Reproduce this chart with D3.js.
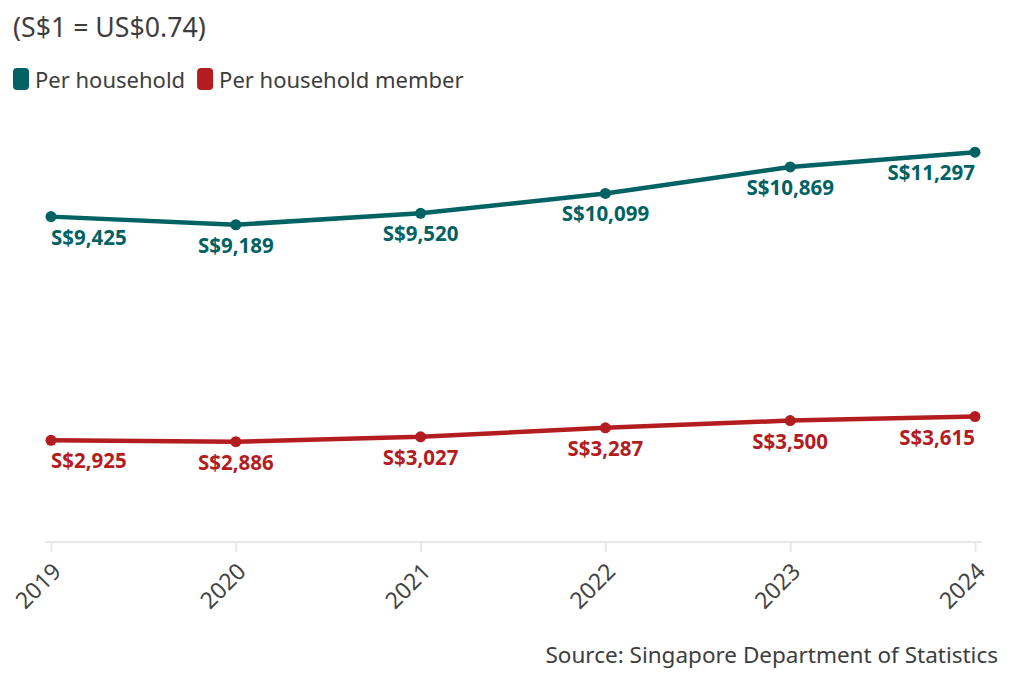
<!DOCTYPE html>
<html>
<head>
<meta charset="utf-8">
<script src="https://cdn.jsdelivr.net/npm/d3@7"></script>
<style>
  html, body { margin: 0; padding: 0; background: #fff; }
  svg text { font-family: "Noto Sans", "Open Sans", sans-serif; }
</style>
</head>
<body>
<svg id="chart" width="1032" height="691"></svg>
<script>
const years = ["2019", "2020", "2021", "2022", "2023", "2024"];
const perHousehold = [9425, 9189, 9520, 10099, 10869, 11297];
const perMember = [2925, 2886, 3027, 3287, 3500, 3615];
const seriesNames = ["Per household", "Per household member"];
const seriesColors = ["#006262", "#b31d1f"];
const subtitle = "(S$1 = US$0.74)";
const source = "Source: Singapore Department of Statistics";

const svg = d3.select("#chart");

const x = d3.scalePoint().domain(years).range([51, 975]);
const y = d3.scaleLinear().domain([0, 12000]).range([541, 128]);

// Subtitle
svg.append("text").attr("x", 13).attr("y", 37)
  .attr("font-size", 26.7).attr("fill", "#3d3d3d").text(subtitle);

// Legend
const legend = svg.append("g");
let lx = 13;
seriesNames.forEach((name, i) => {
  legend.append("rect").attr("x", lx).attr("y", 68).attr("width", 16).attr("height", 22)
    .attr("rx", 4).attr("fill", seriesColors[i]);
  const t = legend.append("text").attr("x", lx + 22).attr("y", 88)
    .attr("font-size", 22).attr("fill", "#3d3d3d").text(name);
  lx += 22 + t.node().getComputedTextLength() + 12;
});

// Axis
const xAxis = d3.axisBottom(x).tickSize(10).tickSizeOuter(0);
const gx = svg.append("g").attr("transform", "translate(0,542)").call(xAxis);
gx.select(".domain").attr("stroke", "#e8e8e8").attr("stroke-width", 2)
  .attr("d", "M45,0H982");
gx.selectAll(".tick line").attr("stroke", "#e8e8e8").attr("stroke-width", 2);
gx.selectAll(".tick text")
  .attr("font-size", 23).attr("fill", "#444")
  .attr("text-anchor", "end")
  .attr("dy", 0).attr("y", 0).attr("x", 0)
  .attr("transform", "translate(11,31) rotate(-45)");

// Lines
const series = [perHousehold, perMember];
const line = d3.line().x((d, i) => x(years[i])).y(d => y(d));
series.forEach((vals, si) => {
  const c = seriesColors[si];
  svg.append("path").datum(vals).attr("d", line)
    .attr("fill", "none").attr("stroke", c).attr("stroke-width", 4.5)
    .attr("stroke-linejoin", "round");
  svg.selectAll(null).data(vals).enter().append("circle")
    .attr("cx", (d, i) => x(years[i])).attr("cy", d => y(d)).attr("r", 5.5)
    .attr("fill", c);
  svg.selectAll(null).data(vals).enter().append("text")
    .attr("x", (d, i) => x(years[i]))
    .attr("y", d => y(d) + 28)
    .attr("text-anchor", (d, i) => i === 0 ? "start" : (i === vals.length - 1 ? "end" : "middle"))
    .attr("font-size", 20.5).attr("font-weight", 700).attr("fill", c)
    .text(d => "S$" + d3.format(",")(d));
});

// Source
svg.append("text").attr("x", 998).attr("y", 663).attr("text-anchor", "end")
  .attr("font-size", 22.5).attr("fill", "#3d3d3d").text(source);
</script>
</body>
</html>
